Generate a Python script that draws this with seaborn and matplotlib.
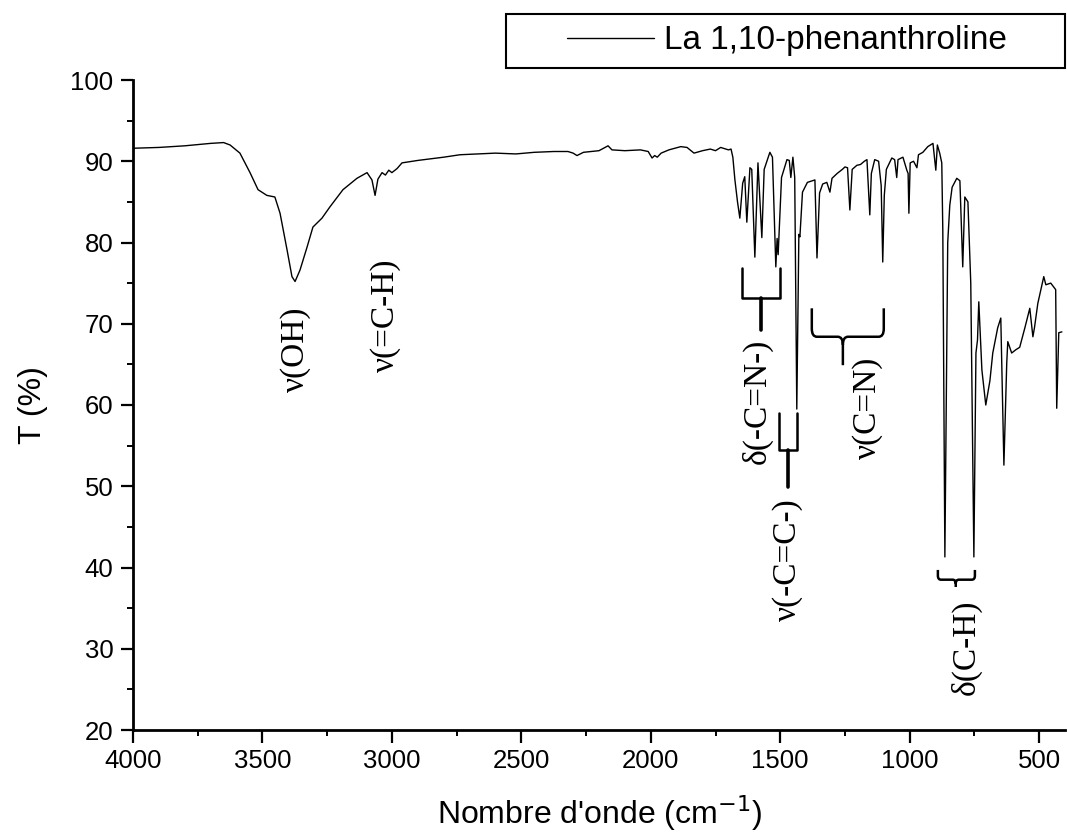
import pandas as pd
import seaborn as sns
import matplotlib.pyplot as plt
from matplotlib.path import Path
from matplotlib.patches import PathPatch, Rectangle

# Spectre IR de la 1,10-phenanthroline
nombre_onde = [
    4000, 3900, 3800, 3700, 3650, 3625, 3587, 3548, 3517, 3483, 3452, 3432,
    3405, 3386, 3374, 3355, 3328, 3305, 3270, 3239, 3189, 3135, 3096, 3077,
    3065, 3054, 3038, 3025, 3012, 3000, 2980, 2961, 2900, 2800, 2737, 2600,
    2521, 2450, 2374, 2320, 2300, 2285, 2260, 2200, 2165, 2150, 2100, 2040,
    2010, 1995, 1985, 1975, 1960, 1930, 1884, 1860, 1833, 1800, 1770, 1750,
    1730, 1700, 1690,
    1683, 1675, 1665, 1656, 1645, 1637, 1629, 1617, 1610, 1598, 1586, 1571,
    1562, 1540, 1530, 1517, 1512, 1508, 1495, 1474, 1465, 1459, 1451, 1444,
    1436, 1428, 1424, 1414, 1395, 1366, 1358, 1348, 1336, 1320, 1308, 1300,
    1280, 1260, 1250, 1240, 1231, 1222, 1204, 1190, 1175, 1165, 1154, 1148,
    1135, 1120, 1110, 1104, 1098, 1090, 1069, 1058, 1050, 1045, 1026, 1011,
    1006, 1003, 998, 985, 972, 966, 949, 930, 910, 899, 893, 884, 876, 872,
    864, 853, 845, 836, 818, 806, 795, 787, 775, 764, 752, 744, 738, 733,
    721, 706, 690, 679, 660, 648, 636, 625, 621, 606, 590, 575, 555, 536,
    524, 518, 505, 482, 474, 455, 436, 432, 424, 412,
]
transmittance = [
    91.6, 91.7, 91.9, 92.2, 92.3, 92.0, 91.0, 88.6, 86.5, 85.8, 85.6, 83.6,
    79.1, 75.8, 75.2, 76.6, 79.4, 81.9, 83.0, 84.4, 86.5, 87.9, 88.6, 87.7,
    85.8, 87.8, 88.6, 88.3, 88.9, 88.6, 89.1, 89.8, 90.1, 90.5, 90.8, 91.0,
    90.9, 91.1, 91.2, 91.2, 91.0, 90.7, 91.1, 91.3, 91.9, 91.4, 91.3, 91.4,
    91.2, 90.4, 90.7, 90.5, 91.0, 91.4, 91.8, 91.7, 91.0, 91.3, 91.5, 91.3,
    91.7, 91.4, 91.5,
    90.5, 87.7, 85.0, 83.0, 87.3, 88.1, 82.5, 89.2, 89.0, 78.2, 89.8, 80.6,
    89.0, 91.1, 90.5, 77.0, 80.5, 78.5, 88.0, 90.2, 90.1, 88.0, 90.5, 88.0,
    59.5, 81.0, 80.7, 86.2, 87.4, 87.7, 78.1, 86.1, 87.2, 87.4, 86.2, 87.9,
    88.5, 89.0, 89.3, 89.2, 84.0, 89.0, 89.5, 89.6, 90.0, 90.2, 83.4, 88.5,
    90.2, 90.0, 87.0, 77.6, 85.8, 89.0, 90.4, 90.2, 88.0, 90.2, 90.5, 88.9,
    88.5, 83.6, 89.8, 90.0, 89.2, 90.8, 91.1, 91.8, 92.2, 88.9, 92.0, 91.0, 89.8, 81.5,
    41.3, 80.0, 84.6, 86.8, 87.9, 87.6, 77.0, 85.6, 85.0, 75.0, 41.3, 66.4, 68.0, 72.7,
    64.3, 60.0, 63.0, 66.4, 69.5, 70.7, 52.6, 65.2, 67.8, 66.4, 66.8, 67.1, 69.5, 71.9,
    68.4, 69.5, 72.5, 75.8, 74.8, 75.0, 74.2, 59.6, 68.9, 69.0,
]

df = pd.DataFrame({"Nombre d'onde": nombre_onde, "T": transmittance})

# attributions des bandes : texte, position du texte
labels = ["ν(OH)", "ν(=C-H)", "δ(-C=N-)", "ν(-C=C-)", "ν(C=N)", "δ(C-H)"]
label_x = [3372, 3025, 1590, 1470, 1162, 783]
label_y = [66.8, 71.0, 60.4, 41.0, 59.6, 30.2]

sns.set_style("ticks")
plt.rcParams["font.family"] = ["Liberation Sans", "DejaVu Sans"]
for k in ["text.color", "axes.labelcolor", "xtick.color", "ytick.color", "axes.edgecolor"]:
    plt.rcParams[k] = "black"

fig = plt.figure(figsize=(10.67, 8.36), dpi=100)
ax = fig.add_axes([133 / 1067, 1 - 730 / 836, (1065 - 133) / 1067, 650 / 836])

sns.lineplot(data=df, x="Nombre d'onde", y="T", ax=ax, color="black",
             linewidth=1.0, estimator=None, sort=False,
             label="La 1,10-phenanthroline")

ax.set_xlim(4000, 400)
ax.set_ylim(20, 100)
ax.set_xticks([4000, 3500, 3000, 2500, 2000, 1500, 1000, 500])
ax.set_xticks(range(3750, 399, -500), minor=True)
ax.set_yticks(range(20, 101, 10))
ax.set_yticks(range(25, 100, 10), minor=True)
ax.tick_params(which="major", length=9, width=1.6, labelsize=18.5, pad=5)
ax.tick_params(which="minor", length=4.5, width=1.4)
ax.set_xlabel("Nombre d'onde (cm$^{-1}$)", fontsize=23, labelpad=14)
ax.set_ylabel("T (%)", fontsize=23, labelpad=16)
sns.despine(ax=ax)
for s in ["left", "bottom"]:
    ax.spines[s].set_linewidth(2)

# légende dans un cadre large au-dessus du graphe
ax.legend(loc="center", bbox_to_anchor=(787 / 1067, 1 - 41 / 836),
          bbox_transform=fig.transFigure, frameon=False, fontsize=24,
          handlelength=2.6, handletextpad=0.3)
fig.patches.append(Rectangle((506 / 1067, 1 - 68 / 836), 559 / 1067, 54 / 836,
                             transform=fig.transFigure, fill=False,
                             edgecolor="black", linewidth=1.5))

for txt, xt, yt in zip(labels, label_x, label_y):
    ax.text(xt, yt, txt, rotation=90, ha="center", va="center",
            fontsize=24, family=["Liberation Serif", "DejaVu Serif"])


def crochet(x1, x2, ytop, ybar, ystem):
    xm = (x1 + x2) / 2
    ax.plot([x1, x1, x2, x2], [ytop, ybar, ybar, ytop], color="black", lw=1.8)
    ax.plot([xm, xm], [ybar, ystem], color="black", lw=2.6)


def accolade(x1, x2, xm, ytop, ybar, ystem, dx, dy):
    verts = [(x1, ytop), (x1, ybar + dy), (x1, ybar), (x1 - dx, ybar),
             (xm + dx, ybar), (xm, ybar), (xm, ybar - dy), (xm, ystem),
             (x2, ytop), (x2, ybar + dy), (x2, ybar), (x2 + dx, ybar),
             (xm - dx, ybar), (xm, ybar), (xm, ybar - dy)]
    codes = [Path.MOVETO, Path.LINETO, Path.CURVE3, Path.CURVE3,
             Path.LINETO, Path.CURVE3, Path.CURVE3, Path.LINETO,
             Path.MOVETO, Path.LINETO, Path.CURVE3, Path.CURVE3,
             Path.LINETO, Path.CURVE3, Path.CURVE3]
    ax.add_patch(PathPatch(Path(verts, codes), fill=False, edgecolor="black", lw=1.8))


crochet(1648, 1501, 76.9, 73.2, 69.2)
crochet(1505, 1436, 59.0, 54.5, 49.9)
accolade(1378, 1100, 1258, 71.9, 68.4, 64.9, 20, 1.0)
accolade(891, 748, 822, 39.7, 38.5, 37.6, 12, 0.5)

fig.savefig("out.png", dpi=100, facecolor="white")
